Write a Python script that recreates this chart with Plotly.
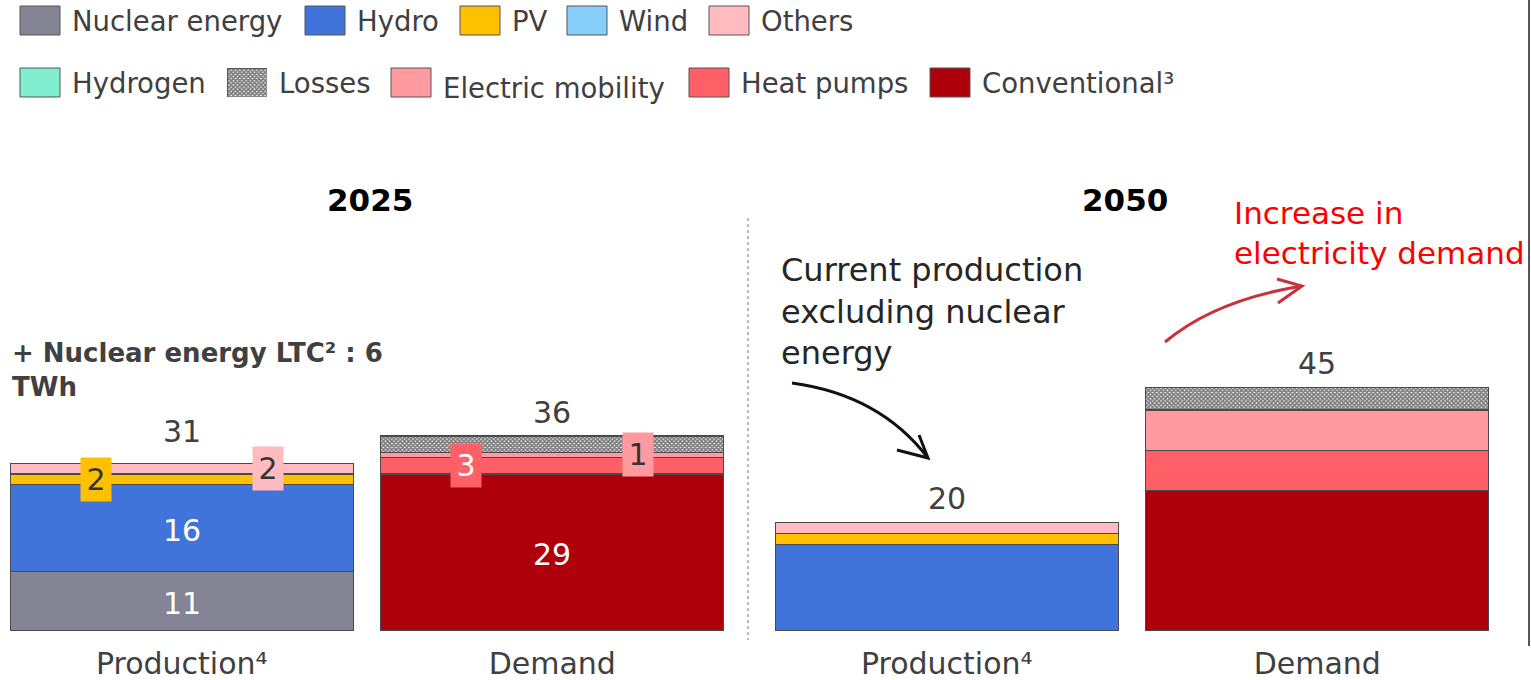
import plotly.graph_objects as go

# ---------------------------------------------------------------- data (TWh)
categories = ["Production⁴", "Demand"]
years = ["2025", "2050"]
column_year = ["2025", "2025", "2050", "2050"]
column_cat = [categories[0], categories[1], categories[0], categories[1]]

# one value per column: 2025 production, 2025 demand, 2050 production, 2050 demand
nuclear = [11, 0, 0, 0]
hydro = [16, 0, 16, 0]
pv = [2, 0, 2, 0]
wind = [0, 0, 0, 0]
others = [2, 0, 2, 0]
hydrogen = [0, 0, 0, 0]
conventional = [0, 29, 0, 26]
heat_pumps = [0, 3, 0, 7.4]
e_mobility = [0, 1, 0, 7.4]
losses = [0, 3, 0, 4.2]

series_names = ["Nuclear energy", "Hydro", "PV", "Wind", "Others",
                "Hydrogen", "Conventional", "Heat pumps", "Electric mobility", "Losses"]
series_values = [nuclear, hydro, pv, wind, others,
                 hydrogen, conventional, heat_pumps, e_mobility, losses]

colors = {
    "Nuclear energy": "#858494",
    "Hydro": "#4174DA",
    "PV": "#FFC000",
    "Wind": "#87CEFA",
    "Others": "#FFBBC0",
    "Hydrogen": "#80EFD0",
    "Losses": "#FFFFFF",
    "Electric mobility": "#FF9BA0",
    "Heat pumps": "#FF5F67",
    "Conventional": "#AE000A",
}

# ---------------------------------------------------------------- geometry
W, H = 1531, 680
MARGIN_B = 49
PLOT_H = H - MARGIN_B
PX_PER_UNIT = 5.416
Y_TOP = PLOT_H / PX_PER_UNIT
BAR_W = 344 / 371
X_RANGE = [-BAR_W / 2, 1 + BAR_W / 2]
FONT = "DejaVu Sans"
TEXT_GREY = "#404040"
OUTLINE = "#4a4a4a"

axis_ids = {"2025": ("x", "y"), "2050": ("x2", "y2")}
domains = {"2025": [10 / W, 724 / W], "2050": [775 / W, 1489 / W]}


def px(x):
    return x / W


def py(y):
    return (PLOT_H - y) / PLOT_H


LOSSES_PATTERN = dict(shape="x", fgcolor="#000000", bgcolor="#FFFFFF",
                      size=3, solidity=0.8)

fig = go.Figure()

# stacked bars
for name, vals in zip(series_names, series_values):
    for yr in years:
        xs, ys = [], []
        for c, v in enumerate(vals):
            if column_year[c] == yr and v > 0:
                xs.append(column_cat[c])
                ys.append(v)
        if not xs:
            continue
        xa, ya = axis_ids[yr]
        marker = dict(color=colors[name], line=dict(color=OUTLINE, width=1.2))
        if name == "Losses":
            marker["pattern"] = LOSSES_PATTERN
        fig.add_trace(go.Bar(
            x=xs, y=ys, name=name, width=BAR_W, xaxis=xa, yaxis=ya,
            marker=marker, showlegend=False, hoverinfo="skip",
        ))


def segment(name, col):
    """Base and height of one stacked segment."""
    base = 0
    for n, vals in zip(series_names, series_values):
        if n == name:
            return base, vals[col]
        base += vals[col]


totals = [sum(v[c] for v in series_values) for c in range(4)]

annotations = []


def text_at(x, y, text, size, color, xanchor="center", yanchor="middle", **kw):
    annotations.append(dict(
        x=px(x), y=py(y), xref="paper", yref="paper", text=text, showarrow=False,
        xanchor=xanchor, yanchor=yanchor, font=dict(family=FONT, size=size, color=color),
        **kw,
    ))


# white labels inside large segments
for name, col in [("Nuclear energy", 0), ("Hydro", 0), ("Conventional", 1)]:
    base, v = segment(name, col)
    xa, ya = axis_ids[column_year[col]]
    annotations.append(dict(
        x=column_cat[col], y=base + v / 2, xref=xa, yref=ya, text=f"{v:g}",
        showarrow=False, xanchor="center", yanchor="middle", yshift=-2,
        font=dict(family=FONT, size=30, color="white"),
    ))

# boxed labels for thin segments
for name, col, side, tcolor in [("PV", 0, -1, "#333333"), ("Others", 0, 1, "#333333"),
                                ("Heat pumps", 1, -1, "#FFFFFF"),
                                ("Electric mobility", 1, 1, "#333333")]:
    base, v = segment(name, col)
    xa, ya = axis_ids[column_year[col]]
    annotations.append(dict(
        x=column_cat[col], y=base + v / 2, xref=xa, yref=ya, text=f"{v:g}",
        showarrow=False, xshift=side * 86, xanchor="center", yanchor="middle",
        bgcolor=colors[name], width=30, height=43, borderpad=0,
        font=dict(family=FONT, size=30, color=tcolor),
    ))

# totals above bars
for col, tot in enumerate(totals):
    xa, ya = axis_ids[column_year[col]]
    annotations.append(dict(
        x=column_cat[col], y=tot, xref=xa, yref=ya, text=f"{tot:g}",
        showarrow=False, xanchor="center", yanchor="middle",
        yshift=32 if col == 0 else 24,
        font=dict(family=FONT, size=30, color=TEXT_GREY),
    ))

# year headings
text_at(370, 200, "<b>2025</b>", 31, "#000000")
text_at(1125, 200, "<b>2050</b>", 31, "#000000")

text_at(10, 370, "<b>+ Nuclear energy LTC² : 6<br>TWh</b>", 26, TEXT_GREY,
        xanchor="left", align="left")
text_at(779, 311, "Current production<br>excluding nuclear<br>energy", 32, "#262626",
        xanchor="left", align="left")
text_at(1232, 233, "Increase in<br>electricity demand", 31, "#FF0000",
        xanchor="left", align="left")

# legend (two rows)
legend_rows = [
    [("Nuclear energy", 20), ("Hydro", 305), ("PV", 460), ("Wind", 567), ("Others", 709)],
    [("Hydrogen", 20), ("Losses", 227), ("Electric mobility", 391), ("Heat pumps", 689),
     ("Conventional³", 930)],
]
row_y = [(6, 35, 21), (68, 97, 83)]
shapes = []
for r, row in enumerate(legend_rows):
    y0, y1, yc = row_y[r]
    for label, x0 in row:
        key = label.replace("³", "")
        if key != "Losses":
            shapes.append(dict(type="rect", xref="paper", yref="paper",
                               x0=px(x0), x1=px(x0 + 40), y0=py(y1), y1=py(y0),
                               fillcolor=colors[key], line=dict(color="#555555", width=1)))
        ty = yc + 5 if key == "Electric mobility" else yc
        text_at(x0 + 50, ty, label, 27.5, TEXT_GREY, xanchor="left")

# patterned swatch for "Losses"
fig.add_trace(go.Bar(
    x=[0], y=[1], width=1, xaxis="x3", yaxis="y3", showlegend=False, hoverinfo="skip",
    marker=dict(color="#FFFFFF", pattern=LOSSES_PATTERN, line=dict(color="#555555", width=1)),
))

# separators
shapes.append(dict(type="line", xref="paper", yref="paper", x0=px(748), x1=px(748),
                   y0=py(218), y1=py(640), line=dict(color="#777777", width=1, dash="dot")))
shapes.append(dict(type="line", xref="paper", yref="paper", x0=px(1529), x1=px(1529),
                   y0=py(0), y1=py(646), line=dict(color="#555555", width=2)))


def path(points, curve=False):
    pts = [f"{px(x):.5f},{py(y):.5f}" for x, y in points]
    if curve:
        return f"M {pts[0]} Q {pts[1]} {pts[2]}"
    return "M " + " L ".join(pts)


# curved arrows
shapes.append(dict(type="path", xref="paper", yref="paper",
                   path=path([(792, 383), (880, 395), (928, 458)], curve=True),
                   line=dict(color="#111111", width=3)))
shapes.append(dict(type="path", xref="paper", yref="paper",
                   path=path([(897, 450), (928, 458), (919, 435)]),
                   line=dict(color="#111111", width=3)))
shapes.append(dict(type="path", xref="paper", yref="paper",
                   path=path([(1165, 342), (1215, 300), (1302, 286)], curve=True),
                   line=dict(color="#C8323C", width=3)))
shapes.append(dict(type="path", xref="paper", yref="paper",
                   path=path([(1277, 279), (1302, 286), (1278, 303)]),
                   line=dict(color="#C8323C", width=3)))

xaxis_common = dict(type="category", categoryorder="array", categoryarray=categories,
                    range=X_RANGE, showgrid=False, zeroline=False, showline=False,
                    ticks="", ticklabelstandoff=12,
                    tickfont=dict(family=FONT, size=30, color=TEXT_GREY), fixedrange=True)
yaxis_common = dict(range=[0, Y_TOP], visible=False, fixedrange=True)

fig.update_layout(
    width=W, height=H, barmode="stack",
    margin=dict(l=0, r=0, t=0, b=MARGIN_B),
    paper_bgcolor="white", plot_bgcolor="rgba(0,0,0,0)",
    showlegend=False,
    xaxis=dict(domain=domains["2025"], anchor="y", **xaxis_common),
    xaxis2=dict(domain=domains["2050"], anchor="y2", **xaxis_common),
    yaxis=dict(domain=[0, 1], anchor="x", **yaxis_common),
    yaxis2=dict(domain=[0, 1], anchor="x2", **yaxis_common),
    xaxis3=dict(domain=[px(227), px(267)], anchor="y3", range=[-0.5, 0.5], visible=False,
                fixedrange=True),
    yaxis3=dict(domain=[py(97), py(68)], anchor="x3", range=[0, 1], visible=False,
                fixedrange=True),
    annotations=annotations,
    shapes=shapes,
)

fig.write_html("out.html", config={"displayModeBar": False})
